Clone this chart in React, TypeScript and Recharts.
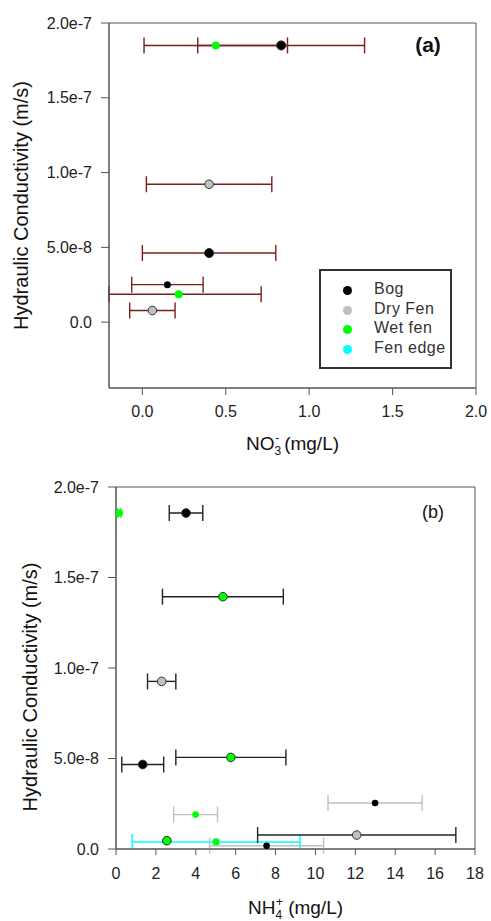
import React from "react";
import {
  ErrorBar,
  Label,
  ReferenceArea,
  Scatter,
  ScatterChart,
  XAxis,
  YAxis,
} from "recharts";

// panel (a): NO3- vs hydraulic conductivity, err = +/- on x
const no3BogLarge = [
  { x: 0.832, y: 1.85e-7, err: 0.5 },
  { x: 0.4, y: 4.62e-8, err: 0.4 },
];
const no3BogSmall = [{ x: 0.15, y: 2.51e-8, err: 0.214 }];
const no3DryFen = [
  { x: 0.4, y: 9.22e-8, err: 0.376 },
  { x: 0.06, y: 0.78e-8, err: 0.136 },
];
// lower bar of the second point runs off the left edge of the plot
const no3WetFen = [
  { x: 0.44, y: 1.85e-7, err: [0.43, 0.43] },
  { x: 0.218, y: 1.87e-8, err: [0.418, 0.494] },
];

// panel (b): NH4+ vs hydraulic conductivity
const nh4Bog = [
  { x: 3.51, y: 1.856e-7, err: 0.84 },
  { x: 1.34, y: 4.67e-8, err: 1.05 },
];
const nh4BogGrey = [
  { x: 12.99, y: 2.54e-8, err: 2.36 },
  { x: 7.55, y: 0.18e-8, err: 2.86 },
];
const nh4DryFen = [
  { x: 2.29, y: 9.26e-8, err: 0.71 },
  { x: 12.07, y: 0.77e-8, err: 4.97 },
];
const nh4WetFen = [
  { x: 5.36, y: 1.394e-7, err: 3.03 },
  { x: 5.76, y: 5.06e-8, err: 2.76 },
];
const nh4WetFenNoBar = [{ x: 2.55, y: 0.46e-8 }];
const nh4WetFenGrey = [{ x: 3.99, y: 1.9e-8, err: 1.1 }];
const nh4WetFenTop = [{ x: 0.165, y: 1.856e-7, err: 0.08 }];
const nh4FenEdge = [{ x: 5.02, y: 0.39e-8, err: 4.21 }];

const yTicks = [0, 5e-8, 1e-7, 1.5e-7, 2e-7];
const no3Ticks = [0, 0.5, 1.0, 1.5, 2.0];
const nh4Ticks = [0, 2, 4, 6, 8, 10, 12, 14, 16, 18];

const legendNames = ["Bog", "Dry Fen", "Wet fen", "Fen edge"];
const legendColors = ["#000000", "#c0c0c0", "#00ff00", "#00ffff"];

const FONT = "'Liberation Sans', Arial, sans-serif";
const MAROON = "#7a1e1e";
const GREY = "#c0c0c0";
const GREEN = "#00ff00";
const tickStyle = { fontSize: 16, fill: "#222", fontFamily: FONT };

const sci = (v: number) => (v === 0 ? "0.0" : v.toExponential(1));

const dot =
  (r: number, fill: string, stroke?: string) =>
  (props: any) =>
    (
      <circle
        cx={props.cx}
        cy={props.cy}
        r={r}
        fill={fill}
        stroke={stroke ?? "none"}
        strokeWidth={1}
      />
    );

function yTitle(dx: number, dy: number) {
  return (props: any) => {
    const vb = props.viewBox;
    const x = vb.x + dx;
    const y = vb.y + vb.height / 2 + dy;
    return (
      <text
        x={x}
        y={y}
        transform={`rotate(-90, ${x}, ${y})`}
        textAnchor="middle"
        fontSize={20}
        fontFamily={FONT}
        fill="#111"
      >
        Hydraulic Conductivity (m/s)
      </text>
    );
  };
}

function xTitle(main: string, sub: string, sup: string, offset: number) {
  return (props: any) => {
    const vb = props.viewBox;
    return (
      <text
        x={vb.x + vb.width / 2}
        y={vb.y + offset}
        textAnchor="middle"
        fontSize={19}
        fontFamily={FONT}
        fill="#111"
      >
        {main}
        <tspan fontSize={12} dy={5}>
          {sub}
        </tspan>
        <tspan fontSize={12} dy={-13} dx={-6}>
          {sup}
        </tspan>
        <tspan dy={8} dx={5}>
          (mg/L)
        </tspan>
      </text>
    );
  };
}

function Legend() {
  return (
    <div
      style={{
        position: "absolute",
        left: 319,
        top: 269,
        width: 133,
        height: 100,
        boxSizing: "border-box",
        border: "2px solid #333",
        background: "#fff",
        fontFamily: FONT,
        fontSize: 16,
        color: "#333",
      }}
    >
      {legendNames.map((name, i) => (
        <div
          key={name}
          style={{ position: "absolute", left: 0, top: 9 + i * 19.7, height: 20, width: 130 }}
        >
          <span
            style={{
              position: "absolute",
              left: 22,
              top: 6,
              width: 9,
              height: 9,
              borderRadius: "50%",
              background: legendColors[i],
            }}
          />
          <span style={{ position: "absolute", left: 53, top: 0, letterSpacing: 0.5 }}>
            {name}
          </span>
        </div>
      ))}
    </div>
  );
}

export default function App() {
  return (
    <div style={{ position: "absolute", left: 0, top: 0, width: 491, height: 921, background: "#fff" }}>
      <div style={{ position: "absolute", left: 0, top: 0 }}>
        <ScatterChart width={491} height={460} margin={{ top: 23, right: 15, bottom: 12, left: 0 }}>
          <XAxis
            type="number"
            dataKey="x"
            domain={[-0.2, 2]}
            allowDataOverflow
            ticks={no3Ticks}
            tickFormatter={(v: number) => v.toFixed(1)}
            tick={tickStyle}
            tickSize={7}
            tickMargin={11}
            height={60}
            stroke="#555"
          >
            <Label content={xTitle("NO", "3", "-", 62)} />
          </XAxis>
          <YAxis
            type="number"
            dataKey="y"
            domain={[-4.4e-8, 2e-7]}
            allowDataOverflow
            ticks={yTicks}
            tickFormatter={sci}
            tick={tickStyle}
            tickSize={8}
            tickMargin={9}
            width={109}
            stroke="#555"
          >
            <Label content={yTitle(28, 0)} />
          </YAxis>
          <ReferenceArea
            x1={-0.2}
            x2={2}
            y1={-4.4e-8}
            y2={2e-7}
            fill="none"
            fillOpacity={0}
            stroke="#555"
            ifOverflow="visible"
          />
          <Scatter data={no3DryFen} isAnimationActive={false} shape={dot(4.3, GREY, "#333")}>
            <ErrorBar dataKey="err" direction="x" width={8} stroke={MAROON} strokeWidth={1.4} />
          </Scatter>
          <Scatter data={no3WetFen} isAnimationActive={false} shape={dot(4, GREEN)}>
            <ErrorBar dataKey="err" direction="x" width={8} stroke={MAROON} strokeWidth={1.4} />
          </Scatter>
          <Scatter data={no3BogLarge} isAnimationActive={false} shape={dot(4.5, "#000", "#222")}>
            <ErrorBar dataKey="err" direction="x" width={8} stroke={MAROON} strokeWidth={1.4} />
          </Scatter>
          <Scatter data={no3BogSmall} isAnimationActive={false} shape={dot(3.5, "#000")}>
            <ErrorBar dataKey="err" direction="x" width={8} stroke={MAROON} strokeWidth={1.4} />
          </Scatter>
        </ScatterChart>
        <div
          style={{
            position: "absolute",
            left: 400,
            top: 33,
            width: 56,
            textAlign: "center",
            fontFamily: FONT,
            fontWeight: 700,
            fontSize: 21,
            color: "#111",
          }}
        >
          (a)
        </div>
        <Legend />
      </div>

      <div style={{ position: "absolute", left: 0, top: 460 }}>
        <ScatterChart width={491} height={461} margin={{ top: 27, right: 16, bottom: 12, left: 0 }}>
          <XAxis
            type="number"
            dataKey="x"
            domain={[0, 18]}
            allowDataOverflow
            ticks={nh4Ticks}
            tick={tickStyle}
            tickSize={6}
            tickMargin={13}
            height={60}
            stroke="#555"
          >
            <Label content={xTitle("NH", "4", "+", 65)} />
          </XAxis>
          <YAxis
            type="number"
            dataKey="y"
            domain={[0, 2e-7]}
            allowDataOverflow
            ticks={yTicks}
            tickFormatter={sci}
            tick={tickStyle}
            tickSize={8}
            tickMargin={9}
            width={116}
            stroke="#555"
          >
            <Label content={yTitle(37, 19)} />
          </YAxis>
          <ReferenceArea
            x1={0}
            x2={18}
            y1={0}
            y2={2e-7}
            fill="none"
            fillOpacity={0}
            stroke="#555"
            ifOverflow="visible"
          />
          <Scatter data={nh4BogGrey} isAnimationActive={false} shape={dot(3.3, "#000")}>
            <ErrorBar dataKey="err" direction="x" width={8} stroke={GREY} strokeWidth={1.4} />
          </Scatter>
          <Scatter data={nh4WetFenGrey} isAnimationActive={false} shape={dot(3.3, GREEN)}>
            <ErrorBar dataKey="err" direction="x" width={8} stroke={GREY} strokeWidth={1.4} />
          </Scatter>
          <Scatter data={nh4FenEdge} isAnimationActive={false} shape={dot(3.8, GREEN, "#7fe0d8")}>
            <ErrorBar dataKey="err" direction="x" width={8} stroke="#00ffff" strokeWidth={1.4} />
          </Scatter>
          <Scatter data={nh4Bog} isAnimationActive={false} shape={dot(4.3, "#000", "#222")}>
            <ErrorBar dataKey="err" direction="x" width={8} stroke="#222" strokeWidth={1.4} />
          </Scatter>
          <Scatter data={nh4DryFen} isAnimationActive={false} shape={dot(4.3, GREY, "#333")}>
            <ErrorBar dataKey="err" direction="x" width={8} stroke="#222" strokeWidth={1.4} />
          </Scatter>
          <Scatter data={nh4WetFen} isAnimationActive={false} shape={dot(4.3, GREEN, "#333")}>
            <ErrorBar dataKey="err" direction="x" width={8} stroke="#222" strokeWidth={1.4} />
          </Scatter>
          <Scatter data={nh4WetFenNoBar} isAnimationActive={false} shape={dot(4.3, GREEN, "#222")} />
          <Scatter data={nh4WetFenTop} isAnimationActive={false} shape={dot(3.8, GREEN)}>
            <ErrorBar dataKey="err" direction="x" width={5} stroke={GREEN} strokeWidth={1.2} />
          </Scatter>
        </ScatterChart>
        <div
          style={{
            position: "absolute",
            left: 405,
            top: 42,
            width: 56,
            textAlign: "center",
            fontFamily: FONT,
            fontSize: 18,
            color: "#111",
          }}
        >
          (b)
        </div>
      </div>
    </div>
  );
}
